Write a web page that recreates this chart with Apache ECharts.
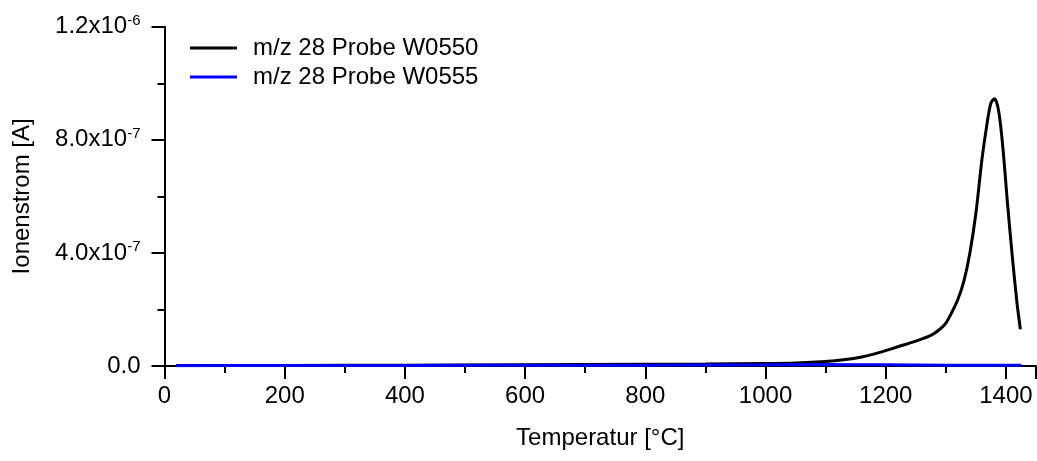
<!DOCTYPE html>
<html>
<head>
<meta charset="UTF-8">
<title>Ionenstrom</title>
<script src="https://cdn.jsdelivr.net/npm/echarts@6/dist/echarts.min.js"></script>
</head>
<body style="margin:0">
    <div id="main" style="width: 1037px; height: 461px;"></div>
    <script>
        // Temperatur [°C] / Ionenstrom [A]
        var tempW0550 = [20, 200, 400, 600, 800, 900, 1000, 1050, 1100, 1130, 1160, 1190, 1220, 1250, 1275, 1290, 1300, 1310, 1320, 1330, 1340, 1350, 1360, 1368, 1375, 1381, 1388, 1395, 1402, 1410, 1418, 1424];
        var ionW0550 = [2e-9, 2e-9, 3e-9, 4e-9, 6e-9, 7e-9, 9e-9, 1.1e-8, 1.6e-8, 2.2e-8, 3.2e-8, 4.8e-8, 6.8e-8, 8.8e-8, 1.08e-7, 1.3e-7, 1.52e-7, 1.9e-7, 2.35e-7, 3.0e-7, 4.0e-7, 5.4e-7, 7.3e-7, 8.5e-7, 9.3e-7, 9.45e-7, 9.0e-7, 7.7e-7, 5.9e-7, 4.0e-7, 2.3e-7, 1.3e-7];
        var tempW0555 = [19, 200, 400, 600, 800, 1000, 1100, 1200, 1300, 1426];
        var ionW0555 = [1e-9, 2e-9, 2e-9, 3e-9, 3e-9, 4e-9, 5e-9, 4e-9, 3e-9, 3e-9];
        var yTicks = ['0.0', '4.0x10{s|-7}', '8.0x10{s|-7}', '1.2x10{s|-6}'];

        function pairs(xs, ys) {
            return xs.map(function (x, i) { return [x, ys[i]]; });
        }

        var font = 'Liberation Sans';
        var myChart = echarts.init(document.getElementById("main"));

        var option = {
            animation: false,
            textStyle: { fontFamily: font },
            grid: { left: 164.5, top: 26.7, right: 1, bottom: 95 },
            legend: {
                orient: 'vertical',
                left: 185,
                top: 31,
                icon: 'rect',
                itemWidth: 47,
                itemHeight: 3,
                itemGap: 5,
                textStyle: { fontSize: 24, color: '#000', fontFamily: font, padding: [0, 0, 0, 11] },
                data: ['m/z 28 Probe W0550', 'm/z 28 Probe W0555']
            },
            xAxis: {
                type: 'value',
                min: 0,
                max: 1450,
                interval: 200,
                name: 'Temperatur [°C]',
                nameLocation: 'middle',
                nameGap: 60,
                nameTextStyle: { fontSize: 24, color: '#000', fontFamily: font },
                axisLine: { onZero: false, lineStyle: { color: '#000', width: 2 } },
                axisTick: { length: 13, inside: false, lineStyle: { color: '#000', width: 2 } },
                minorTick: { show: true, splitNumber: 2, length: 7, lineStyle: { color: '#000', width: 2 } },
                axisLabel: {
                    fontSize: 24, color: '#000', margin: 18, fontFamily: font,
                    formatter: function (v) { return String(v); }
                },
                splitLine: { show: false }
            },
            yAxis: {
                type: 'value',
                min: 0,
                max: 1.2e-6,
                interval: 4e-7,
                name: 'Ionenstrom [A]',
                nameLocation: 'middle',
                nameGap: 130,
                nameTextStyle: { fontSize: 24, color: '#000', fontFamily: font },
                axisLine: { show: true, lineStyle: { color: '#000', width: 2 } },
                axisTick: { length: 13, lineStyle: { color: '#000', width: 2 } },
                minorTick: { show: true, splitNumber: 2, length: 7, lineStyle: { color: '#000', width: 2 } },
                axisLabel: {
                    fontSize: 24,
                    color: '#000',
                    margin: 24,
                    fontFamily: font,
                    formatter: function (v) {
                        return yTicks[Math.round(v / 4e-7)];
                    },
                    rich: {
                        s: { fontSize: 15, color: '#000', fontFamily: font, padding: [0, 0, 12, 0] }
                    }
                },
                splitLine: { show: false }
            },
            series: [
                {
                    name: 'm/z 28 Probe W0550',
                    type: 'line',
                    smooth: 0.3,
                    symbol: 'none',
                    lineStyle: { color: '#000', width: 3 },
                    itemStyle: { color: '#000' },
                    data: pairs(tempW0550, ionW0550)
                },
                {
                    name: 'm/z 28 Probe W0555',
                    type: 'line',
                    smooth: 0.3,
                    symbol: 'none',
                    lineStyle: { color: '#0000ff', width: 3 },
                    itemStyle: { color: '#0000ff' },
                    data: pairs(tempW0555, ionW0555)
                }
            ]
        };

        myChart.setOption(option);
    </script>
</body>
</html>
